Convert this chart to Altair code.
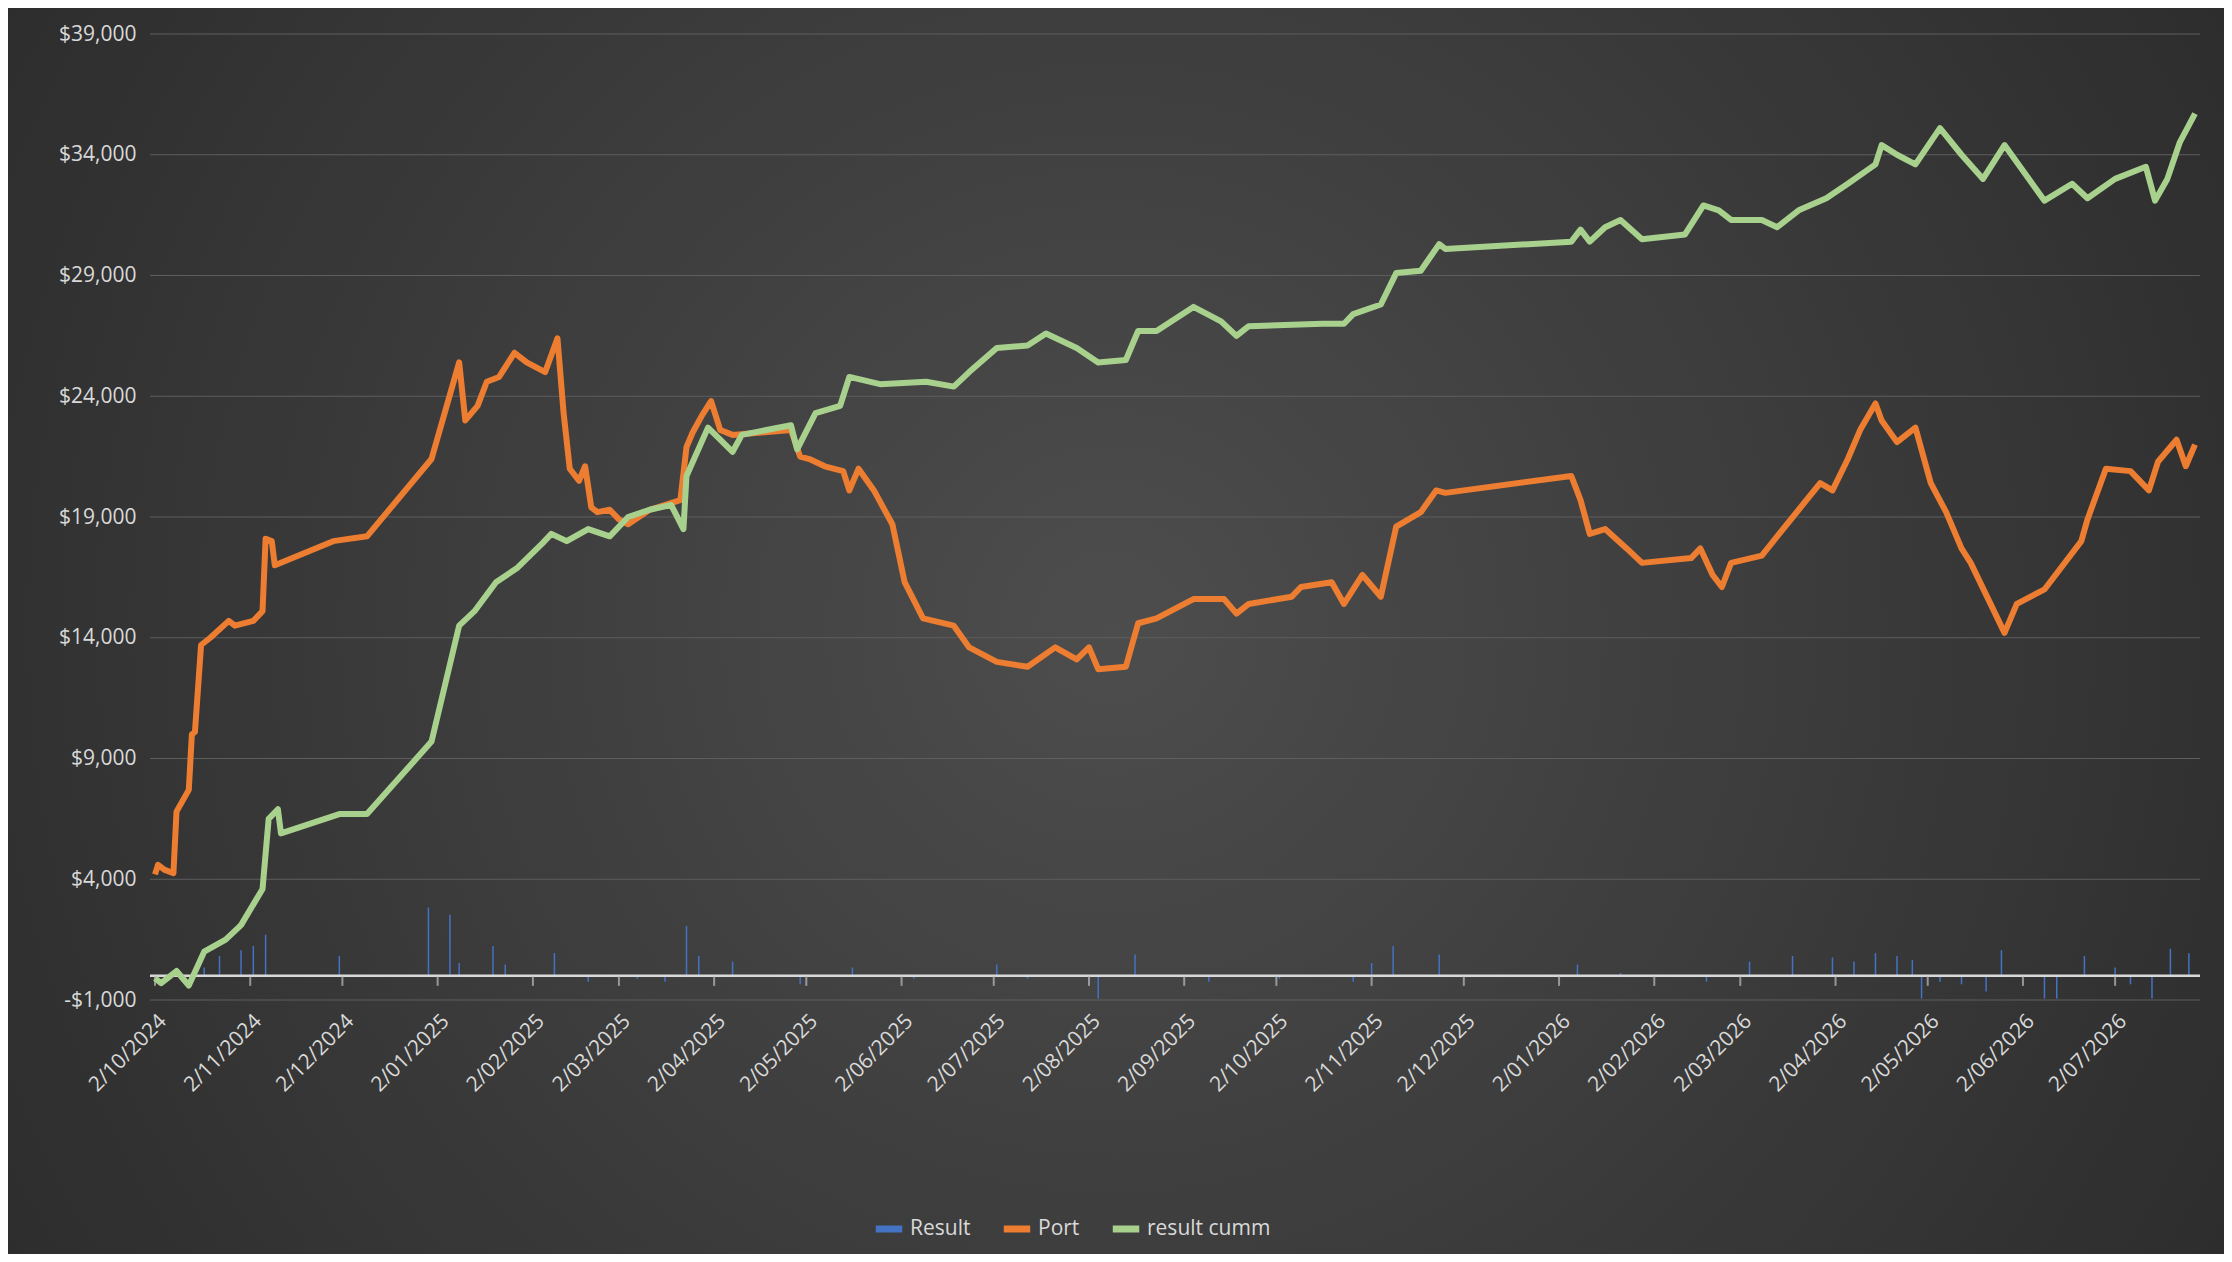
import altair as alt
import pandas as pd

START = pd.Timestamp("2024-10-02")

# days since START, value ($)
port_days = [0, 1, 3, 6, 7, 11, 12, 13, 15, 18, 24, 26, 32, 35, 36, 38, 39, 58, 69, 90, 99, 101, 105, 108,
             112, 117, 121, 127, 131, 133, 135, 138, 140, 142, 144, 148, 151, 154, 161, 171, 173, 175, 178,
             181, 184, 188, 207, 210, 213, 218, 224, 226, 229, 234, 240, 244, 250, 260, 265, 274, 284, 293,
             300, 304, 307, 316, 320, 326, 338, 348, 352, 356, 370, 373, 383, 387, 393, 399, 404, 412, 417,
             420, 461, 464, 467, 472, 479, 484, 500, 503, 507, 510, 513, 523, 528, 535, 542, 546, 551, 555,
             560, 562, 567, 573, 578, 583, 588, 591, 602, 606, 615, 627, 629, 635, 643, 649, 652, 658, 661, 664]
port_vals = [4200, 4600, 4400, 4250, 6800, 7700, 10000, 10100, 13700, 14000, 14700, 14500, 14700, 15100,
             18100, 18000, 17000, 18000, 18200, 21400, 25400, 23000, 23600, 24600, 24800, 25800, 25400,
             25000, 26400, 23300, 21000, 20500, 21100, 19400, 19200, 19300, 18900, 18700, 19300, 19700,
             21900, 22500, 23200, 23800, 22600, 22400, 22600, 21500, 21400, 21100, 20900, 20100, 21000,
             20100, 18700, 16300, 14800, 14500, 13600, 13000, 12800, 13600, 13100, 13600, 12700, 12800,
             14600, 14800, 15600, 15600, 15000, 15400, 15700, 16100, 16300, 15400, 16600, 15700, 18600,
             19200, 20100, 20000, 20700, 19700, 18300, 18500, 17700, 17100, 17300, 17700, 16600, 16100,
             17100, 17400, 18200, 19300, 20400, 20100, 21400, 22600, 23700, 23000, 22100, 22700, 20400,
             19200, 17700, 17100, 14200, 15400, 16000, 18000, 18900, 21000, 20900, 20100, 21300, 22200,
             21100, 22000]

cumm_days = [0, 2, 7, 11, 16, 23, 28, 35, 37, 40, 41, 60, 69, 90, 99, 104, 111, 118, 126, 129, 134, 141,
             148, 154, 161, 168, 172, 173, 180, 188, 191, 207, 209, 215, 223, 226, 236, 251, 260, 265, 274,
             284, 290, 300, 307, 316, 320, 326, 338, 347, 352, 356, 380, 387, 390, 399, 404, 412, 418, 420,
             461, 464, 467, 472, 477, 484, 498, 504, 509, 513, 523, 528, 535, 544, 551, 560, 562, 567, 573,
             581, 588, 595, 602, 615, 624, 629, 638, 648, 651, 655, 659, 664]
cumm_vals = [-100, -300, 200, -400, 1000, 1500, 2100, 3600, 6500, 6900, 5900, 6700, 6700, 9700, 14500,
             15100, 16300, 16900, 17900, 18300, 18000, 18500, 18200, 19000, 19300, 19500, 18500, 20700,
             22700, 21700, 22400, 22800, 21800, 23300, 23600, 24800, 24500, 24600, 24400, 25000, 26000,
             26100, 26600, 26000, 25400, 25500, 26700, 26700, 27700, 27100, 26500, 26900, 27000, 27000,
             27400, 27800, 29100, 29200, 30300, 30100, 30400, 30900, 30400, 31000, 31300, 30500, 30700,
             31900, 31700, 31300, 31300, 31000, 31700, 32200, 32800, 33600, 34400, 34000, 33600, 35100,
             34000, 33000, 34400, 32100, 32800, 32200, 33000, 33500, 32100, 33000, 34500, 35700]

result_days = [16, 21, 28, 32, 36, 60, 89, 96, 99, 110, 114, 130, 141, 157, 166, 173, 177, 188, 210, 227,
               247, 274, 284, 307, 319, 343, 366, 390, 396, 403, 418, 463, 477, 505, 519, 533, 546, 553,
               560, 567, 572, 575, 581, 588, 596, 601, 615, 619, 628, 638, 643, 650, 656, 662]
result_vals = [350, 820, 1060, 1240, 1700, 820, 2830, 2530, 530, 1240, 470, 940, -240, -120, -240, 2060,
               820, 590, -350, 350, -120, 470, -120, -940, 880, -240, -120, -240, 530, 1240, 880, 470, 120,
               -240, 590, 820, 760, 590, 940, 820, 650, -940, -240, -350, -650, 1060, -940, -940, 820, 350,
               -350, -940, 1120, 940]

y_ticks = [-1000, 4000, 9000, 14000, 19000, 24000, 29000, 34000, 39000]
month_ticks = pd.date_range("2024-10-01", "2026-07-02", freq="MS") + pd.Timedelta(days=1)

series = ["Result", "Port", "result cumm"]
colors = ["#4472C4", "#ED7D31", "#A9D18E"]


def to_df(days, vals, name):
    return pd.DataFrame({
        "date": START + pd.to_timedelta(days, unit="D"),
        "value": vals,
        "series": name,
    })


lines_df = pd.concat([to_df(port_days, port_vals, "Port"), to_df(cumm_days, cumm_vals, "result cumm")])
bars_df = to_df(result_days, result_vals, "Result")
ticks_df = pd.DataFrame({"date": month_ticks, "v": 0})

x_scale = alt.Scale(domain=[START.isoformat(), (START + pd.Timedelta(days=664)).isoformat()])
y_scale = alt.Scale(domain=[-1000, 39000], nice=False, zero=False)
color = alt.Color("series:N", scale=alt.Scale(domain=series, range=colors),
                  legend=alt.Legend(title=None, orient="none", direction="horizontal",
                                    legendX=722, legendY=1178, symbolType="stroke",
                                    symbolStrokeWidth=7, symbolSize=700, labelColor="#d9d9d9",
                                    labelFontSize=21, labelFont="Open Sans", columnPadding=18,
                                    zindex=1))

bg = alt.Chart(pd.DataFrame({"a": [0]})).mark_rect(
    color=alt.Gradient(gradient="radial",
                       stops=[alt.GradientStop(color="#4d4d4d", offset=0),
                              alt.GradientStop(color="#232323", offset=1)],
                       x1=0.5, y1=0.5, r1=0, x2=0.5, y2=0.5, r2=0.75)
).encode(x=alt.value(-150), x2=alt.value(2074), y=alt.value(-34), y2=alt.value(1220))

grid = alt.Chart(pd.DataFrame({"v": y_ticks})).mark_rule(color="#5e5e5e", strokeWidth=1.2).encode(
    y=alt.Y("v:Q", scale=y_scale)
)
zero = alt.Chart(pd.DataFrame({"v": [0]})).mark_rule(color="#d9d9d9", strokeWidth=2.5).encode(
    y=alt.Y("v:Q", scale=y_scale)
)
month_marks = alt.Chart(ticks_df).mark_tick(color="#bfbfbf", thickness=2, size=10, orient="vertical",
                                            yOffset=5).encode(
    x=alt.X("date:T", scale=x_scale),
    y=alt.Y("v:Q", scale=y_scale),
)

bars = alt.Chart(bars_df).mark_bar(width=1.5).encode(
    x=alt.X("date:T", scale=x_scale),
    y=alt.Y("value:Q", scale=y_scale),
    color=color,
)

lines = alt.Chart(lines_df).mark_line(strokeWidth=6, strokeJoin="round").encode(
    x=alt.X("date:T", scale=x_scale, title=None,
            axis=alt.Axis(values=[alt.DateTime(year=d.year, month=d.month, date=d.day) for d in month_ticks],
                          format="%-d/%m/%Y", labelAngle=-45, labelAlign="right", labelBaseline="top",
                          labelOverlap=False, labelBound=False,
                          domain=False, ticks=False, grid=False, labelColor="#d9d9d9",
                          labelFontSize=21, labelFont="Open Sans", labelPadding=10, zindex=1)),
    y=alt.Y("value:Q", scale=y_scale, title=None,
            axis=alt.Axis(values=y_ticks, domain=False, ticks=False, grid=False,
                          labelColor="#d9d9d9", labelFontSize=21, labelFont="Open Sans",
                          labelPadding=14, zindex=1,
                          labelExpr="datum.value < 0 ? '-$' + format(-datum.value, ',') : '$' + format(datum.value, ',')")),
    color=color,
)

chart = alt.layer(bg, grid, bars, zero, month_marks, lines).properties(
    width=2050, height=966,
    autosize=alt.AutoSizeParams(type="none"),
    padding={"left": 142, "top": 26, "right": 24, "bottom": 254},
    background="#262626",
).configure_view(stroke=None)

chart.save("out.html", embed_options={"renderer": "svg", "actions": False})
